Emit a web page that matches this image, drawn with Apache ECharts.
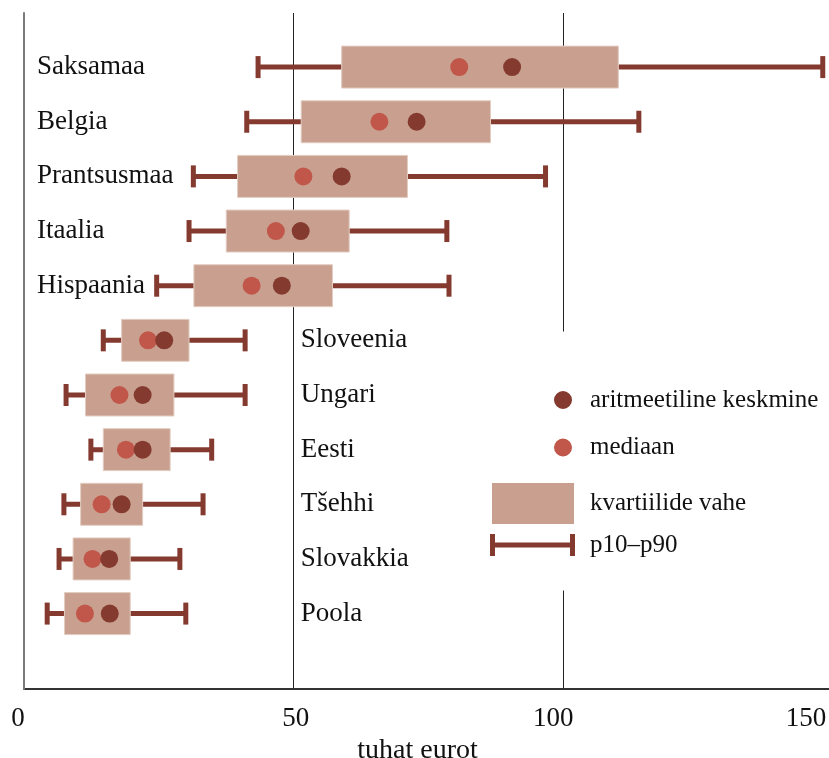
<!DOCTYPE html>
<html><head><meta charset="utf-8">
<script src="https://cdn.jsdelivr.net/npm/echarts@6/dist/echarts.min.js"></script>
<style>html,body{margin:0;padding:0;background:#fff}#c{width:829px;height:758px}</style>
</head><body><div id="c"></div>
<script>
const countries = ['Saksamaa','Belgia','Prantsusmaa','Itaalia','Hispaania','Sloveenia','Ungari','Eesti','Tšehhi','Slovakkia','Poola'];
const p10    = [43.4, 41.3, 31.4, 30.6, 24.6, 14.7,  7.8, 12.4,  7.4,  6.5,  4.3];
const q1     = [58.9, 51.4, 39.6, 37.5, 31.5, 18.1, 11.4, 14.7, 10.5,  9.1,  7.5];
const median = [80.7, 65.9, 51.8, 46.7, 42.2, 23.0, 17.7, 18.9, 14.4, 12.7, 11.3];
const mean   = [90.5, 72.8, 58.9, 51.3, 47.8, 26.0, 22.0, 22.0, 18.1, 15.8, 15.9];
const q3     = [110.2, 86.5, 71.1, 60.3, 57.2, 30.6, 27.8, 27.1, 22.0, 19.7, 19.7];
const p90    = [148.1, 114.0, 96.7, 78.4, 78.8, 41.0, 41.0, 34.8, 33.2, 28.9, 30.0];
const xTicks = [0, 50, 100, 150];
const xTitle = 'tuhat eurot';
const seriesNames = ['aritmeetiline keskmine', 'mediaan', 'kvartiilide vahe', 'p10–p90'];

const FONT = 'Liberation Serif';
const C_DARK = '#843a2f', C_MED = '#c0574a', C_BOX = '#c9a08f', C_TEXT = '#111';

const chart = echarts.init(document.getElementById('c'), null, {renderer: 'canvas'});

const richTicks = {
  t0:   {padding: [0, 12, 0, 0], fontFamily: FONT, fontSize: 27, color: C_TEXT},
  t50:  {padding: [0, 0, 0, 4],  fontFamily: FONT, fontSize: 27, color: C_TEXT},
  t100: {padding: [0, 20, 0, 0], fontFamily: FONT, fontSize: 27, color: C_TEXT},
  t150: {padding: [0, 54, 0, 0], fontFamily: FONT, fontSize: 27, color: C_TEXT}
};

const ICON_CIRCLE = 'path://M0,9A9,9 0 1,0 18,9A9,9 0 1,0 0,9Z M31,0L31,18';
const ICON_BOX = 'path://M0,0H82V41H0Z M93,0L93,41';
const ICON_WHISKER = 'path://M0,0H5V22H0Z M5,8.5H80V13.5H5Z M80,0H85V22H80Z M95,0L95,22';
const legendText = {fontFamily: FONT, fontSize: 25, color: C_TEXT};

const option = {
  animation: false,
  backgroundColor: '#fff',
  grid: {left: 24, top: 13, width: 809, height: 676, containLabel: false, outerBoundsMode: 'none'},
  xAxis: {
    type: 'value', min: xTicks[0], max: xTicks[xTicks.length - 1], interval: xTicks[1] - xTicks[0],
    z: 0,
    axisLine: {show: true, onZero: false, lineStyle: {color: '#333', width: 2}},
    axisTick: {show: false},
    splitLine: {show: true, lineStyle: {color: '#222', width: 1}},
    axisLabel: {
      show: true, margin: 16, showMinLabel: true, showMaxLabel: true,
      fontFamily: FONT, fontSize: 27, color: C_TEXT,
      formatter: v => '{t' + v + '|' + v + '}',
      rich: richTicks
    },
    name: xTitle, nameLocation: 'middle', nameGap: 41,
    nameTextStyle: {fontFamily: FONT, fontSize: 28, color: C_TEXT, padding: [0, 22, 0, 0]}
  },
  yAxis: {
    type: 'value', inverse: true, min: -0.99, max: 11.38, z: 5,
    axisLine: {show: true, onZero: false, lineStyle: {color: '#7a7a7a', width: 2}},
    axisTick: {show: false}, axisLabel: {show: false}, splitLine: {show: false}
  },
  legend: [
    {data: [{name: seriesNames[0], icon: ICON_CIRCLE}], left: 544, top: 331.5, padding: [56, 10, 178, 10],
     backgroundColor: '#fff', itemWidth: 31, itemHeight: 18, textStyle: legendText, selectedMode: false},
    {data: [{name: seriesNames[1], icon: ICON_CIRCLE}], left: 554, top: 435, padding: 0,
     itemWidth: 31, itemHeight: 18, textStyle: legendText, selectedMode: false},
    {data: [{name: seriesNames[2], icon: ICON_BOX}], left: 492, top: 483, padding: 0,
     itemWidth: 93, itemHeight: 41, textStyle: legendText, selectedMode: false},
    {data: [{name: seriesNames[3], icon: ICON_WHISKER}], left: 490, top: 532.5, padding: 0,
     itemWidth: 95, itemHeight: 22, textStyle: legendText, selectedMode: false}
  ],
  series: [
    {
      name: seriesNames[3], type: 'custom', itemStyle: {color: C_DARK},
      encode: {x: [0, 1], y: 2},
      data: countries.map((c, i) => [p10[i], p90[i], i]),
      renderItem: (params, api) => {
        const y = api.value(2);
        const a = api.coord([api.value(0), y]);
        const b = api.coord([api.value(1), y]);
        return {type: 'group', children: [
          {type: 'rect', shape: {x: a[0], y: a[1] - 2.5, width: b[0] - a[0], height: 5}, style: {fill: C_DARK}},
          {type: 'rect', shape: {x: a[0] - 2.5, y: a[1] - 11, width: 5, height: 22}, style: {fill: C_DARK}},
          {type: 'rect', shape: {x: b[0] - 2.5, y: b[1] - 11, width: 5, height: 22}, style: {fill: C_DARK}}
        ]};
      }
    },
    {
      name: seriesNames[2], type: 'custom', itemStyle: {color: C_BOX},
      encode: {x: [0, 1], y: 2},
      data: countries.map((c, i) => [q1[i], q3[i], i]),
      renderItem: (params, api) => {
        const y = api.value(2);
        const a = api.coord([api.value(0), y]);
        const b = api.coord([api.value(1), y]);
        return {type: 'rect', shape: {x: a[0], y: a[1] - 21, width: b[0] - a[0], height: 42},
                style: {fill: C_BOX, stroke: '#e3cdc2', lineWidth: 1}};
      }
    },
    {
      name: seriesNames[1], type: 'scatter', symbol: 'circle', symbolSize: 18,
      itemStyle: {color: C_MED, opacity: 1},
      data: countries.map((c, i) => [median[i], i])
    },
    {
      name: seriesNames[0], type: 'scatter', symbol: 'circle', symbolSize: 18,
      itemStyle: {color: C_DARK, opacity: 1},
      data: countries.map((c, i) => [mean[i], i])
    },
    {
      name: 'labels', type: 'custom', silent: true,
      encode: {x: 0, y: 1},
      data: countries.map((c, i) => [p10[i], i]),
      renderItem: (params, api) => {
        const i = params.dataIndex;
        const y = api.value(1);
        const roomLeft = api.value(0) >= 20;
        const base = roomLeft ? api.coord([xTicks[0], y]) : api.coord([xTicks[1], y]);
        const x = base[0] + (roomLeft ? 13 : 7);
        return {type: 'text', x: x, y: base[1],
                style: {text: countries[i], fill: C_TEXT, fontFamily: FONT, fontSize: 27,
                        align: 'left', verticalAlign: 'middle'}};
      }
    }
  ]
};
chart.setOption(option);
</script></body></html>
